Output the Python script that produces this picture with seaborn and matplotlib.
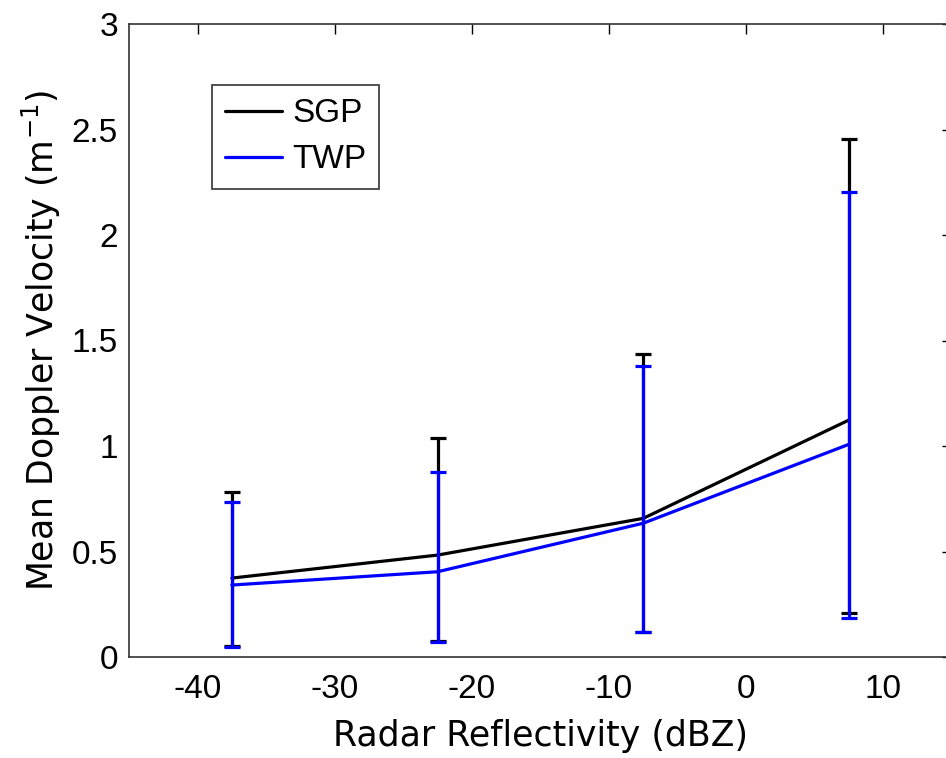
import numpy as np
import pandas as pd
import matplotlib
matplotlib.use("Agg")
import matplotlib.pyplot as plt
import seaborn as sns
from matplotlib.lines import Line2D

# Data
reflectivity = [-37.5, -22.5, -7.5, 7.5]
sgp_mean = [0.374, 0.483, 0.657, 1.123]
sgp_upper = [0.780, 1.038, 1.435, 2.453]
sgp_lower = [0.050, 0.075, 0.118, 0.210]
twp_mean = [0.341, 0.404, 0.634, 1.008]
twp_upper = [0.733, 0.877, 1.379, 2.205]
twp_lower = [0.049, 0.073, 0.117, 0.183]
x_ticks = [-40, -30, -20, -10, 0, 10]
y_ticks = [0, 0.5, 1, 1.5, 2, 2.5, 3]
y_ticklabels = ["0", "0.5", "1", "1.5", "2", "2.5", "3"]

sns.set_theme(style="white")
plt.rcParams['font.family'] = ['Liberation Sans', 'DejaVu Sans']
plt.rcParams['text.color'] = 'black'
plt.rcParams['axes.labelcolor'] = 'black'
plt.rcParams['xtick.color'] = 'black'
plt.rcParams['ytick.color'] = 'black'

df = pd.DataFrame({
    "x": reflectivity * 2,
    "y": sgp_mean + twp_mean,
    "site": ["SGP"] * 4 + ["TWP"] * 4,
})

fig = plt.figure(figsize=(9.46, 7.58), dpi=100)
ax = fig.add_axes([129 / 946, 1 - 657 / 758, (951.75 - 129) / 946, (657 - 24) / 758])

colors = {"SGP": "black", "TWP": "#0000ff"}
sns.lineplot(data=df, x="x", y="y", hue="site", palette=colors, ax=ax,
             linewidth=2.3, legend=False)

for mean, lo, up, c in [(sgp_mean, sgp_lower, sgp_upper, "black"),
                        (twp_mean, twp_lower, twp_upper, "#0000ff")]:
    m = np.array(mean)
    yerr = np.vstack([m - np.array(lo), np.array(up) - m])
    ax.errorbar(reflectivity, m, yerr=yerr, fmt="none", ecolor=c,
                elinewidth=2.3, capsize=6, capthick=2.3)

ax.set_xlim(-45, 15)
ax.set_ylim(0, 3)
ax.set_xticks(x_ticks)
ax.set_xticklabels([str(t) for t in x_ticks])
ax.set_yticks(y_ticks)
ax.set_yticklabels(y_ticklabels)
ax.tick_params(direction="in", length=7, width=1, top=True, right=True,
               labelsize=24, colors="black")
ax.tick_params(axis="x", pad=12)
ax.tick_params(axis="y", pad=8)
for s in ax.spines.values():
    s.set_color("#333333")
    s.set_linewidth(1.2)

ax.set_xlabel("Radar Reflectivity (dBZ)", fontsize=25, labelpad=10,
              family=['DejaVu Sans'])
ax.set_ylabel("Mean Doppler Velocity (m$^{-1}$)", fontsize=25, labelpad=6,
              family=['DejaVu Sans'])

handles = [Line2D([], [], color="black", lw=2.3), Line2D([], [], color="#0000ff", lw=2.3)]
leg = ax.legend(handles, ["SGP", "TWP"], loc="upper left",
                bbox_to_anchor=((212 - 129) / 822.75, 1 - (85 - 24) / 633),
                fontsize=24, frameon=True, fancybox=False, handlelength=1.7,
                handletextpad=0.3, borderpad=0.4, labelspacing=0.45, borderaxespad=0)
leg.get_frame().set_edgecolor("black")
leg.get_frame().set_linewidth(1.2)

fig.savefig("out.png", dpi=100)
